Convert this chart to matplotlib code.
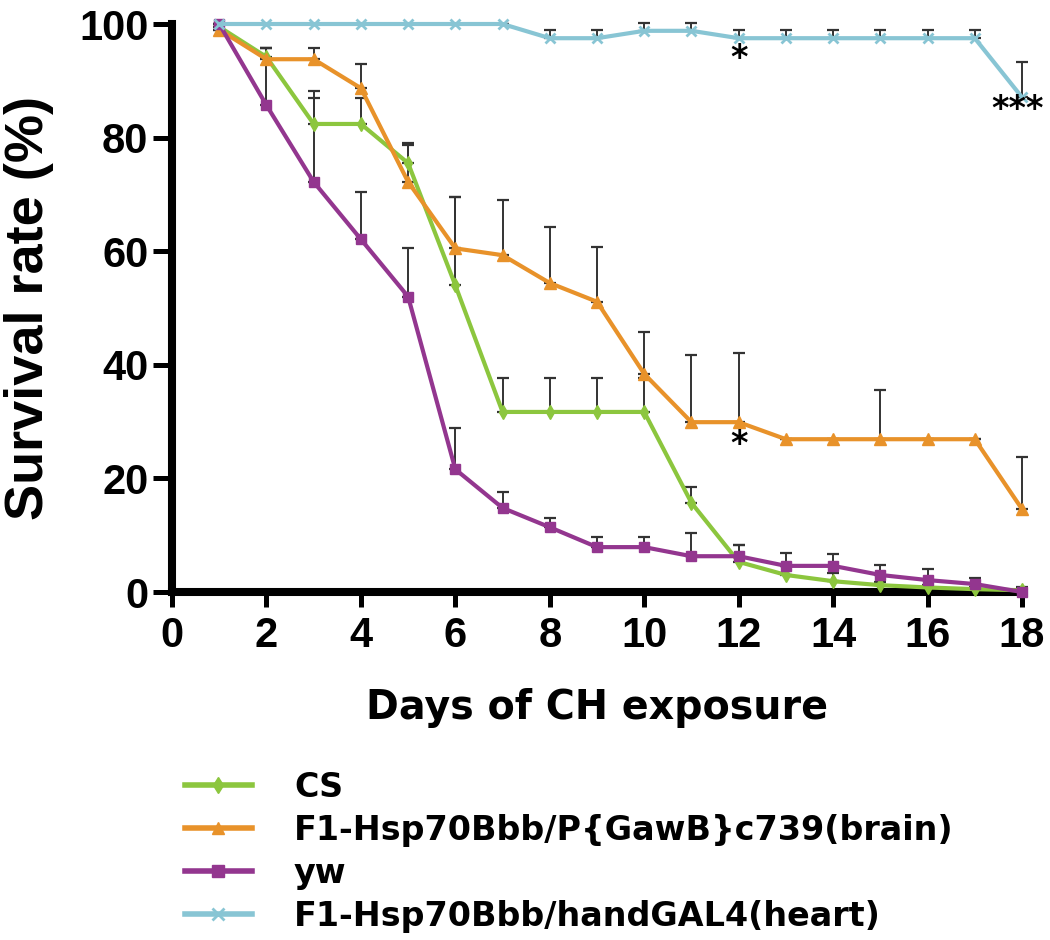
import matplotlib
matplotlib.use("Agg")
import matplotlib.pyplot as plt
from matplotlib.lines import Line2D

days = list(range(1, 19))

cs = [99.5, 94.2, 82.4, 82.4, 75.5, 54.0, 31.7, 31.7, 31.7, 31.7, 15.7, 5.3, 3.0, 1.9, 1.2, 0.8, 0.5, 0.3]
cs_err = [0, 1.5, 4.6, 4.6, 3.5, 15.5, 6.0, 6.0, 6.0, 6.0, 2.8, 3.0, 1.5, 1.5, 0.5, 0.5, 0.3, 0]

brain = [99.0, 93.8, 93.8, 88.7, 72.2, 60.5, 59.3, 54.4, 51.1, 38.4, 29.9, 29.9, 26.9, 26.9, 26.9, 26.9, 26.9, 14.6]
brain_err = [0, 2.0, 2.0, 4.2, 6.5, 9.0, 9.7, 9.9, 9.6, 7.4, 11.8, 12.2, 0, 0, 8.7, 0, 0, 9.2]

yw = [100.0, 85.7, 72.2, 62.1, 52.0, 21.6, 14.8, 11.4, 7.9, 7.9, 6.3, 6.3, 4.6, 4.6, 3.0, 2.1, 1.4, 0.0]
yw_err = [0, 10.0, 16.0, 8.3, 8.5, 7.3, 2.8, 1.6, 1.8, 1.8, 4.1, 2.0, 2.3, 2.1, 1.8, 1.9, 1.1, 0.8]

heart = [100, 100, 100, 100, 100, 100, 100, 97.5, 97.5, 98.8, 98.8, 97.5, 97.5, 97.5, 97.5, 97.5, 97.5, 87.1]
heart_err = [0, 0, 0, 0, 0, 0, 0, 1.4, 1.4, 1.3, 1.3, 1.4, 1.4, 1.4, 1.4, 1.4, 1.4, 6.2]

labels = ["CS", "F1-Hsp70Bbb/P{GawB}c739(brain)", "yw", "F1-Hsp70Bbb/handGAL4(heart)"]
colors = ["#8cc63e", "#e8922a", "#93368f", "#88c5d4"]
markers = ["d", "^", "s", "x"]
msizes = [7, 8, 7, 7]

annotations = [(12, 94.0, "*"), (12, 26.0, "*"), (17.9, 85.0, "***")]

xticks = list(range(0, 19, 2))
yticks = list(range(0, 101, 20))

fig = plt.figure(figsize=(10.5, 9.4), dpi=100)
ax = fig.add_axes([172/1050, 1-592/940, 850/1050, 568/940])

series = [cs, brain, yw, heart]
errs = [cs_err, brain_err, yw_err, heart_err]

for s, e in zip(series, errs):
    ax.errorbar(days, s, yerr=[[0]*len(e), e], fmt="none", ecolor="#333333",
                elinewidth=1.4, capsize=4, capthick=1.6, zorder=2, clip_on=False)

handles = []
for s, lab, c, m, ms in zip(series, labels, colors, markers, msizes):
    ax.plot(days, s, color=c, lw=3.0, marker=m, ms=ms, mew=2 if m == "x" else 1,
            mec=c, mfc=c, zorder=3, clip_on=False)
    handles.append(Line2D([], [], color=c, lw=4, marker=m, ms=ms + 1, mec=c, mfc=c,
                          mew=2 if m == "x" else 1))

for x, y, t in annotations:
    ax.text(x, y, t, ha="center", va="center", fontsize=24, fontweight="bold",
            family="DejaVu Sans", zorder=4)

ax.set_xlim(0, 18)
ax.set_ylim(0, 100)
ax.set_xticks(xticks)
ax.set_yticks(yticks)
for side in ["top", "right"]:
    ax.spines[side].set_visible(False)
for side in ["left", "bottom"]:
    ax.spines[side].set_linewidth(5.8)
ax.tick_params(axis="y", length=14, width=3.6, pad=3)
ax.tick_params(axis="x", length=11, width=3.6, pad=6)
for lab in ax.get_xticklabels() + ax.get_yticklabels():
    lab.set_fontfamily("Liberation Sans")
    lab.set_fontweight("bold")
    lab.set_fontsize(30)

ax.set_xlabel("Days of CH exposure", fontsize=28.5, fontweight="bold", family="DejaVu Sans")
ax.xaxis.set_label_coords(0.5, -0.169)
ax.set_ylabel("Survival rate (%)", fontsize=39, fontweight="bold", family="Liberation Sans")
ax.yaxis.set_label_coords(-0.139, 0.5)

fig.legend(handles, labels, loc="upper left", bbox_to_anchor=(185/1050, 1-771/940),
           frameon=False, borderpad=0, borderaxespad=0, handlelength=2.0,
           handletextpad=1.27, labelspacing=0.3,
           prop={"family": "DejaVu Sans", "weight": "bold", "size": 24})

fig.savefig("out.png", dpi=100)
